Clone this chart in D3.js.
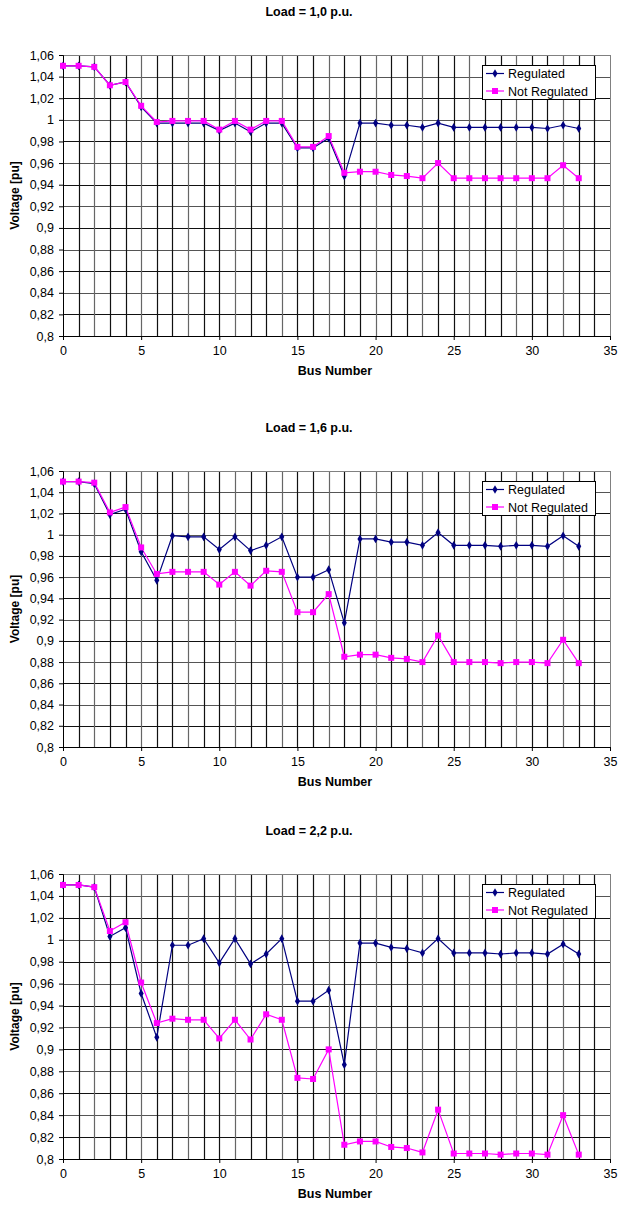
<!DOCTYPE html>
<html>
<head>
<meta charset="utf-8">
<script src="https://cdn.jsdelivr.net/npm/d3@7"></script>
<style>
  body { margin: 0; background: #fff; }
  svg { display: block; font-family: "Liberation Sans", Arial, sans-serif; }
</style>
</head>
<body>
<svg id="chart" width="619" height="1205"></svg>
<script>
// bus numbers on the x axis
const buses = [0,1,2,3,4,5,6,7,8,9,10,11,12,13,14,15,16,17,18,19,20,21,22,23,24,25,26,27,28,29,30,31,32,33];
const xTicks = [0, 5, 10, 15, 20, 25, 30, 35];
const yTicks = [0.8,0.82,0.84,0.86,0.88,0.9,0.92,0.94,0.96,0.98,1,1.02,1.04,1.06];
const seriesNames = ['Regulated', 'Not Regulated'];
const titles = ['Load = 1,0 p.u.', 'Load = 1,6 p.u.', 'Load = 2,2 p.u.'];

// Load = 1,0
const reg10    = [1.050,1.050,1.049,1.032,1.035,1.012,0.997,0.997,0.997,0.997,0.990,0.997,0.989,0.997,0.997,0.974,0.974,0.983,0.948,0.997,0.997,0.995,0.995,0.993,0.997,0.993,0.993,0.993,0.993,0.993,0.993,0.992,0.995,0.992];
const notReg10 = [1.050,1.050,1.049,1.032,1.035,1.013,0.998,0.999,0.999,0.999,0.991,0.999,0.991,0.999,0.999,0.975,0.975,0.985,0.951,0.952,0.952,0.949,0.948,0.946,0.960,0.946,0.946,0.946,0.946,0.946,0.946,0.946,0.958,0.946];
// Load = 1,6
const reg16    = [1.050,1.050,1.048,1.019,1.024,0.984,0.957,0.999,0.998,0.998,0.986,0.998,0.985,0.990,0.998,0.960,0.960,0.967,0.917,0.996,0.996,0.993,0.993,0.990,1.002,0.990,0.990,0.990,0.989,0.990,0.990,0.989,0.999,0.989];
const notReg16 = [1.050,1.050,1.049,1.021,1.026,0.988,0.963,0.965,0.965,0.965,0.953,0.965,0.952,0.966,0.965,0.927,0.927,0.944,0.885,0.887,0.887,0.884,0.883,0.880,0.905,0.880,0.880,0.880,0.879,0.880,0.880,0.879,0.901,0.879];
// Load = 2,2
const reg22    = [1.050,1.050,1.048,1.003,1.011,0.951,0.911,0.995,0.995,1.001,0.979,1.001,0.978,0.987,1.001,0.944,0.944,0.954,0.886,0.997,0.997,0.993,0.992,0.988,1.001,0.988,0.988,0.988,0.987,0.988,0.988,0.987,0.996,0.987];
const notReg22 = [1.050,1.050,1.048,1.008,1.016,0.961,0.924,0.928,0.927,0.927,0.910,0.927,0.909,0.932,0.927,0.874,0.873,0.900,0.813,0.816,0.816,0.811,0.810,0.806,0.845,0.805,0.805,0.805,0.804,0.805,0.805,0.804,0.840,0.804];

const colReg = '#000080', colNot = '#ff00ff';
const svg = d3.select('#chart');
const left = 63, right = 610;

const fmt = d => String(+d.toFixed(2)).replace('.', ',');

const panels = [
  { title: titles[0], top: 55,  bottom: 336,  reg: reg10, not: notReg10 },
  { title: titles[1], top: 471, bottom: 747,  reg: reg16, not: notReg16 },
  { title: titles[2], top: 874, bottom: 1159, reg: reg22, not: notReg22 }
];

panels.forEach(p => {
  const x = d3.scaleLinear().domain([0, 35]).range([left, right]);
  const y = d3.scaleLinear().domain([0.8, 1.06]).range([p.bottom, p.top]);
  const g = svg.append('g');

  // grid
  g.append('g').selectAll('line').data(yTicks.slice(1, -1)).join('line')
    .attr('x1', left).attr('x2', right)
    .attr('y1', d => Math.round(y(d)) + 0.5).attr('y2', d => Math.round(y(d)) + 0.5)
    .attr('stroke', (d, i) => i % 2 ? '#555' : '#111').attr('stroke-width', 1.2);
  g.append('g').selectAll('line').data(buses.slice(1).concat([34])).join('line')
    .attr('y1', p.top).attr('y2', p.bottom)
    .attr('x1', d => Math.round(x(d)) + 0.5).attr('x2', d => Math.round(x(d)) + 0.5)
    .attr('stroke', (d, i) => i % 3 === 1 ? '#666' : '#111').attr('stroke-width', 1.2);

  // border
  g.append('rect').attr('x', left + 0.5).attr('y', p.top + 0.5)
    .attr('width', right - left).attr('height', p.bottom - p.top)
    .attr('fill', 'none').attr('stroke', '#808080');

  // axes
  const ya = g.append('g').attr('transform', `translate(${left},0)`)
    .call(d3.axisLeft(y).tickValues(yTicks).tickFormat(fmt).tickSize(4).tickPadding(5));
  const xa = g.append('g').attr('transform', `translate(0,${p.bottom})`)
    .call(d3.axisBottom(x).tickValues(xTicks).tickSize(4).tickPadding(6));
  [ya, xa].forEach(a => {
    a.selectAll('text').attr('font-size', 12.5).attr('fill', '#000')
      .attr('font-family', '"Liberation Sans", Arial, sans-serif');
    a.selectAll('line, path').attr('stroke', '#000');
  });

  // titles
  g.append('text').attr('x', 309).attr('y', p.top - 39)
    .attr('text-anchor', 'middle').attr('font-size', 12.5).attr('font-weight', 'bold')
    .text(p.title);
  g.append('text').attr('x', 335).attr('y', p.bottom + 39)
    .attr('text-anchor', 'middle').attr('font-size', 12.5).attr('font-weight', 'bold')
    .text('Bus Number');
  g.append('text')
    .attr('transform', `translate(19,${(p.top + p.bottom) / 2}) rotate(-90)`)
    .attr('text-anchor', 'middle').attr('font-size', 12).attr('font-weight', 'bold')
    .text('Voltage [pu]');

  // series
  const line = d3.line().x((d, i) => x(buses[i])).y(d => y(d));
  g.append('path').datum(p.reg).attr('d', line)
    .attr('fill', 'none').attr('stroke', colReg).attr('stroke-width', 1.2);
  g.append('path').datum(p.not).attr('d', line)
    .attr('fill', 'none').attr('stroke', colNot).attr('stroke-width', 1.2);

  const diamond = d3.symbol().type(d3.symbolDiamond).size(22);
  g.append('g').selectAll('path').data(p.reg).join('path')
    .attr('d', diamond)
    .attr('transform', (d, i) => `translate(${x(buses[i])},${y(d)})`)
    .attr('fill', colReg);
  g.append('g').selectAll('rect').data(p.not).join('rect')
    .attr('x', (d, i) => x(buses[i]) - 3).attr('y', d => y(d) - 3)
    .attr('width', 6).attr('height', 6).attr('fill', colNot);

  // legend
  const lg = g.append('g').attr('transform', `translate(482,${p.top + 10})`);
  lg.append('rect').attr('x', 0.5).attr('y', 0.5).attr('width', 113).attr('height', 34)
    .attr('fill', '#fff').attr('stroke', '#000');
  seriesNames.forEach((name, i) => {
    const cy = 8.5 + i * 17.5;
    const c = i ? colNot : colReg;
    lg.append('line').attr('x1', 4).attr('x2', 22).attr('y1', cy).attr('y2', cy)
      .attr('stroke', c).attr('stroke-width', 1.2);
    if (i) {
      lg.append('rect').attr('x', 10).attr('y', cy - 3).attr('width', 6).attr('height', 6).attr('fill', c);
    } else {
      lg.append('path').attr('d', diamond).attr('transform', `translate(13,${cy})`).attr('fill', c);
    }
    lg.append('text').attr('x', 26).attr('y', cy + 4.5).attr('font-size', 12.5).text(name);
  });
});
</script>
</body>
</html>
